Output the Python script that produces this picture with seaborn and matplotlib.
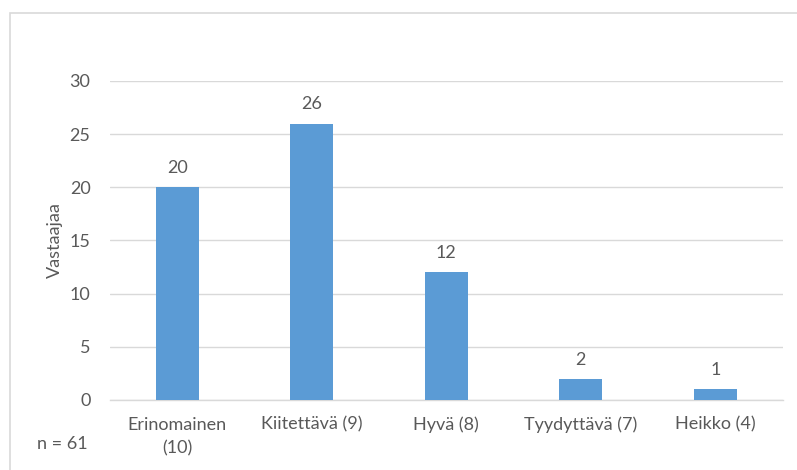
import matplotlib
matplotlib.use("Agg")
import matplotlib.pyplot as plt
import seaborn as sns
import pandas as pd
from matplotlib.patches import Rectangle

categories = ["Erinomainen\n(10)", "Kiitettävä (9)", "Hyvä (8)", "Tyydyttävä (7)", "Heikko (4)"]
counts = [20, 26, 12, 2, 1]
y_ticks = [0, 5, 10, 15, 20, 25, 30]
y_label = "Vastaajaa"
sample_note = "n = 61"

text_color = "#595959"
grid_color = "#D9D9D9"
bar_color = "#5B9BD5"
fs = 13

sns.set_theme(style="white")
plt.rcParams["font.family"] = ["Lato", "DejaVu Sans"]

df = pd.DataFrame({"Arvosana": categories, "Vastaajaa": counts})

fig = plt.figure(figsize=(7.97, 4.70), dpi=100)
ax = fig.add_axes([0.138, 0.149, 0.844, 0.6787])

sns.barplot(data=df, x="Arvosana", y="Vastaajaa", color=bar_color,
            width=0.32, saturation=1, ax=ax, zorder=3, linewidth=0)

ax.set_ylim(0, 30)
ax.set_yticks(y_ticks)
ax.yaxis.grid(True, color=grid_color, linewidth=1, zorder=0)
ax.set_axisbelow(True)
for side in ["top", "right", "left"]:
    ax.spines[side].set_visible(False)
ax.spines["bottom"].set_color(grid_color)
ax.spines["bottom"].set_linewidth(1)

ax.tick_params(axis="y", length=0, labelsize=fs, colors=text_color, pad=14)
ax.tick_params(axis="x", length=0, labelsize=fs, colors=text_color, pad=12)
for lbl in ax.get_xticklabels():
    lbl.set_linespacing(1.55)
ax.set_xlabel("")
ax.set_ylabel(y_label, fontsize=fs, color=text_color, labelpad=5)

for container in ax.containers:
    ax.bar_label(container, labels=[str(v) for v in counts], padding=8,
                 fontsize=fs, color=text_color)

fig.text(37 / 797, 1 - 444 / 470, sample_note, fontsize=fs, color=text_color,
         ha="left", va="center")

# chart frame
frame = Rectangle((9.5 / 797, -0.05), 1.2, 1 - 12.5 / 470 + 0.05,
                  transform=fig.transFigure, fill=False,
                  edgecolor=grid_color, linewidth=1.2)
fig.patches.append(frame)

fig.savefig("out.png", dpi=100)
